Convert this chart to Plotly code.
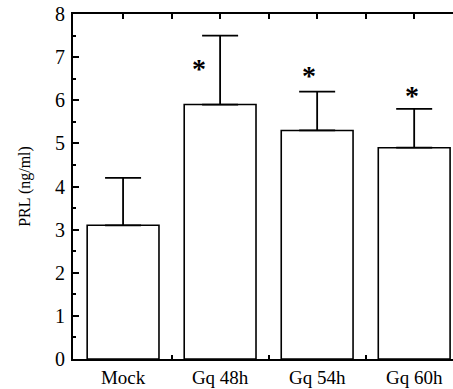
import plotly.graph_objects as go

categories = ["Mock", "Gq 48h", "Gq 54h", "Gq 60h"]
prl_mean = [3.1, 5.9, 5.3, 4.9]
prl_err = [1.1, 1.6, 0.9, 0.9]
significant = [False, True, True, True]
y_ticks = [0, 1, 2, 3, 4, 5, 6, 7, 8]

# placement offsets of significance stars (style, not data)
star_dx = [0, -0.22, -0.08, -0.02]
star_dy = [0, -0.6, 0.54, 0.48]

xs = list(range(len(categories)))
FONT = "Liberation Serif"

fig = go.Figure()
fig.add_trace(go.Bar(
    x=xs, y=prl_mean, width=0.74,
    marker=dict(color="white", line=dict(color="black", width=1.6)),
    error_y=dict(type="data", array=prl_err, arrayminus=[0]*len(prl_err),
                 symmetric=False, color="black", thickness=1.8, width=18),
    showlegend=False,
))
# invisible trace on top axis for top ticks
fig.add_trace(go.Scatter(x=[xs[0]], y=[0], xaxis="x2", mode="markers",
                         marker=dict(opacity=0), showlegend=False, hoverinfo="skip"))

for i, s in enumerate(significant):
    if s:
        fig.add_annotation(x=i + star_dx[i], y=prl_mean[i] + prl_err[i] + star_dy[i],
                           text="<b>*</b>", showarrow=False, xref="x", yref="y",
                           font=dict(family=FONT, size=28, color="black"),
                           yshift=-7)

xr = [-0.516, 3.40]
fig.update_layout(
    width=453, height=389,
    margin=dict(l=73, r=0, t=14, b=30),
    plot_bgcolor="white", paper_bgcolor="white",
    font=dict(family=FONT, size=18, color="black"),
    bargap=0.26,
    xaxis=dict(range=xr, tickvals=xs, ticktext=categories, ticks="",
               showline=True, linecolor="black", linewidth=2, showgrid=False,
               zeroline=False, tickfont=dict(size=19, family=FONT),
               minor=dict(tickvals=[0.5, 1.5, 2.5], ticks="inside", ticklen=4,
                          tickcolor="black", tickwidth=1.5, showgrid=False)),
    xaxis2=dict(range=xr, overlaying="x", side="top", showline=True,
                linecolor="black", linewidth=2, ticks="inside", ticklen=5,
                tickwidth=1.5, tickcolor="black",
                tickvals=[0, 0.5, 1, 1.5, 2, 2.5, 3], showticklabels=False,
                showgrid=False, zeroline=False),
    yaxis=dict(range=[0, 8], tickvals=y_ticks, ticks="inside", ticklen=6,
               tickwidth=1.5, tickcolor="black", showline=True,
               linecolor="black", linewidth=2, showgrid=False, zeroline=False,
               tickfont=dict(size=20, family=FONT), ticklabelstandoff=2,
               minor=dict(dtick=0.5, tick0=0, ticks="inside", ticklen=3,
                          tickwidth=1.5, tickcolor="black", showgrid=False),
               title=dict(text="PRL (ng/ml)", font=dict(size=16, family=FONT),
                          standoff=20)),
)

fig.write_html("out.html",
               config={"displayModeBar": False},
               post_script="document.body.style.margin='0';document.body.style.padding='0';")
